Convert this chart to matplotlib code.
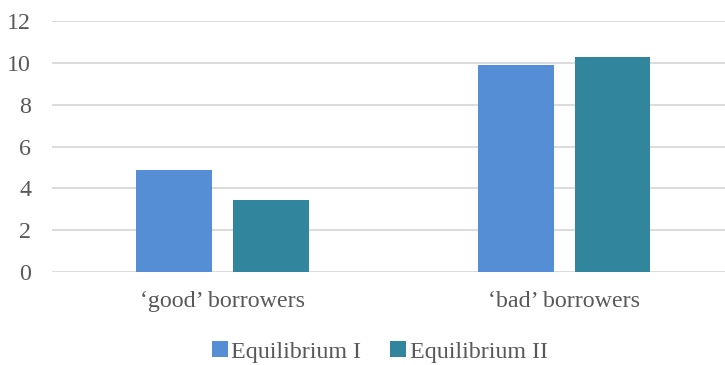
import matplotlib.pyplot as plt
import numpy as np

categories = ['\u2018good\u2019 borrowers', '\u2018bad\u2019 borrowers']
series_names = ['Equilibrium I', 'Equilibrium II']
eq1_values = [4.9, 9.93]
eq2_values = [3.45, 10.31]
y_ticks = [0, 2, 4, 6, 8, 10, 12]

colors = ['#558ED5', '#31859C']
text_color = '#595959'
fs = 17.3

plt.rcParams['font.family'] = ['Liberation Serif', 'DejaVu Serif']

fig = plt.figure(figsize=(7.25, 3.65), dpi=100)
ax = fig.add_axes([0.0717, 0.2556, 0.9417, 0.6855])

x = np.arange(len(categories))
width = 0.2225
offset = 0.142

ax.bar(x - offset, eq1_values, width, color=colors[0], label=series_names[0], zorder=3)
ax.bar(x + offset, eq2_values, width, color=colors[1], label=series_names[1], zorder=3)

ax.set_xlim(-0.5, 1.5)
ax.set_ylim(0, 12)
ax.set_yticks(y_ticks)
ax.set_xticks(x)
ax.set_xticklabels(categories)

# horizontal gridlines only, no frame
ax.grid(axis='y', color='#D9D9D9', linewidth=1.3, zorder=0)
for s in ax.spines.values():
    s.set_visible(False)
ax.tick_params(axis='both', length=0, colors=text_color, labelsize=fs)
ax.tick_params(axis='y', pad=15)
ax.tick_params(axis='x', pad=14)

leg = fig.legend(loc='center', bbox_to_anchor=(0.524, 0.036), ncol=2, frameon=False,
                 fontsize=fs, handlelength=0.65, handleheight=0.65, handletextpad=0.15,
                 columnspacing=1.2, labelcolor=text_color, borderpad=0)

fig.savefig('out.png', dpi=100)
